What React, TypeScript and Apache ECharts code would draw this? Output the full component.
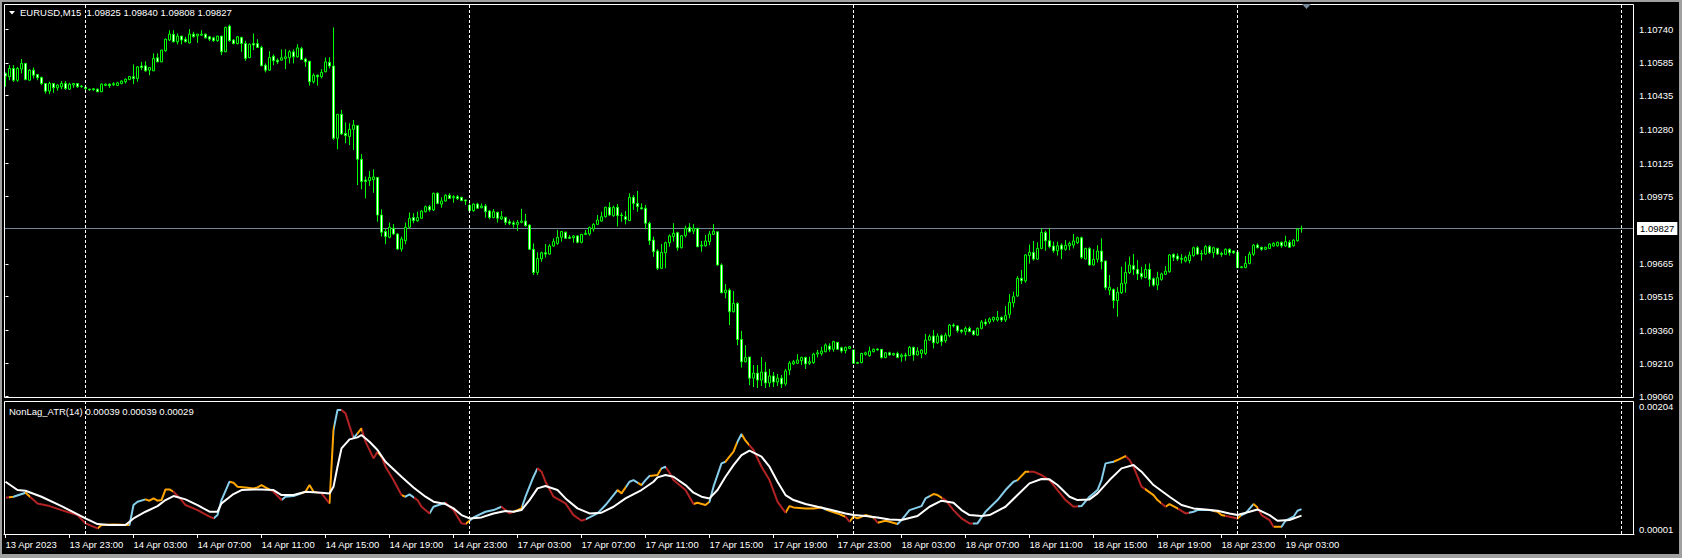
import React, { useEffect, useRef } from "react";
import * as echarts from "echarts";

// ---------- price data (EURUSD, M15), bar index 0 = 13 Apr 2023 19:00 ----------
const opens = [
1.10537,1.10522,1.10560,1.10506,1.10557,1.10583,1.10506,1.10552,1.10532,1.10519,
1.10491,1.10456,1.10491,1.10471,1.10476,1.10491,1.10465,1.10484,1.10491,1.10479,
1.10474,1.10465,1.10462,1.10465,1.10453,1.10482,1.10488,1.10485,1.10482,1.10491,
1.10499,1.10509,1.10522,1.10514,1.10571,1.10572,1.10552,1.10549,1.10609,1.10590,
1.10641,1.10690,1.10716,1.10682,1.10708,1.10694,1.10677,1.10717,1.10709,1.10712,
1.10717,1.10705,1.10700,1.10687,1.10708,1.10636,1.10754,1.10690,1.10674,1.10702,
1.10674,1.10609,1.10674,1.10674,1.10656,1.10575,1.10552,1.10616,1.10598,1.10598,
1.10606,1.10609,1.10636,1.10613,1.10651,1.10603,1.10593,1.10499,1.10529,1.10522,
1.10545,1.10588,1.10571,1.10240,1.10350,1.10263,1.10248,1.10281,1.10298,1.10144,
1.10049,1.10046,1.10051,1.10061,1.09889,1.09813,1.09787,1.09828,1.09802,1.09733,
1.09771,1.09833,1.09877,1.09862,1.09874,1.09904,1.09927,1.09912,1.09988,1.09939,
1.09953,1.09979,1.09968,1.09973,1.09970,1.09958,1.09933,1.09909,1.09939,1.09922,
1.09930,1.09907,1.09877,1.09901,1.09871,1.09878,1.09858,1.09853,1.09846,1.09855,
1.09861,1.09843,1.09732,1.09626,1.09688,1.09716,1.09710,1.09747,1.09759,1.09787,
1.09810,1.09787,1.09785,1.09793,1.09764,1.09800,1.09802,1.09825,1.09846,1.09861,
1.09881,1.09924,1.09886,1.09924,1.09889,1.09881,1.09863,1.09970,1.09942,1.09922,
1.09920,1.09851,1.09774,1.09724,1.09645,1.09716,1.09762,1.09790,1.09808,1.09739,
1.09794,1.09832,1.09815,1.09828,1.09747,1.09748,1.09767,1.09800,1.09812,1.09660,
1.09533,1.09545,1.09446,1.09484,1.09319,1.09217,1.09239,1.09142,1.09165,1.09133,
1.09170,1.09120,1.09152,1.09124,1.09142,1.09115,1.09179,1.09207,1.09210,1.09222,
1.09237,1.09210,1.09213,1.09252,1.09255,1.09263,1.09289,1.09274,1.09306,1.09281,
1.09268,1.09278,1.09271,1.09213,1.09213,1.09251,1.09245,1.09263,1.09275,1.09274,
1.09236,1.09258,1.09248,1.09255,1.09240,1.09248,1.09245,1.09283,1.09248,1.09255,
1.09255,1.09316,1.09335,1.09304,1.09336,1.09313,1.09336,1.09385,1.09381,1.09362,
1.09355,1.09370,1.09358,1.09339,1.09370,1.09399,1.09399,1.09408,1.09408,1.09420,
1.09408,1.09434,1.09487,1.09518,1.09599,1.09587,1.09703,1.09718,1.09687,1.09736,
1.09809,1.09771,1.09747,1.09725,1.09751,1.09732,1.09748,1.09751,1.09762,1.09785,
1.09687,1.09736,1.09660,1.09686,1.09724,1.09678,1.09545,1.09548,1.09497,1.09533,
1.09576,1.09625,1.09657,1.09640,1.09622,1.09603,1.09640,1.09597,1.09568,1.09594,
1.09617,1.09629,1.09709,1.09701,1.09690,1.09678,1.09680,1.09703,1.09739,1.09713,
1.09710,1.09744,1.09716,1.09736,1.09713,1.09709,1.09732,1.09724,1.09718,1.09648,
1.09648,1.09667,1.09709,1.09751,1.09741,1.09732,1.09736,1.09747,1.09748,1.09764,
1.09747,1.09764,1.09748,1.09771,1.09825,
];
const closes = [
1.10525,1.10560,1.10506,1.10560,1.10583,1.10509,1.10552,1.10529,1.10517,1.10491,
1.10456,1.10491,1.10471,1.10484,1.10491,1.10468,1.10488,1.10491,1.10476,1.10477,
1.10468,1.10462,1.10467,1.10453,1.10488,1.10488,1.10481,1.10490,1.10494,1.10502,
1.10511,1.10523,1.10514,1.10567,1.10564,1.10549,1.10564,1.10606,1.10590,1.10644,
1.10694,1.10717,1.10682,1.10708,1.10690,1.10682,1.10717,1.10705,1.10717,1.10717,
1.10700,1.10694,1.10687,1.10708,1.10636,1.10748,1.10687,1.10674,1.10705,1.10674,
1.10606,1.10671,1.10667,1.10656,1.10572,1.10552,1.10610,1.10595,1.10590,1.10609,
1.10613,1.10636,1.10613,1.10654,1.10601,1.10590,1.10499,1.10529,1.10522,1.10542,
1.10590,1.10571,1.10240,1.10350,1.10260,1.10252,1.10281,1.10301,1.10144,1.10042,
1.10042,1.10061,1.10063,1.09889,1.09810,1.09790,1.09833,1.09802,1.09733,1.09779,
1.09833,1.09874,1.09863,1.09877,1.09907,1.09927,1.09912,1.09988,1.09942,1.09953,
1.09979,1.09965,1.09973,1.09964,1.09955,1.09953,1.09909,1.09939,1.09920,1.09930,
1.09904,1.09877,1.09904,1.09874,1.09881,1.09855,1.09851,1.09846,1.09855,1.09861,
1.09840,1.09732,1.09626,1.09690,1.09716,1.09710,1.09747,1.09767,1.09787,1.09813,
1.09782,1.09782,1.09793,1.09764,1.09800,1.09805,1.09831,1.09846,1.09866,1.09881,
1.09924,1.09889,1.09924,1.09886,1.09886,1.09869,1.09970,1.09942,1.09927,1.09917,
1.09851,1.09771,1.09721,1.09645,1.09718,1.09762,1.09793,1.09805,1.09739,1.09794,
1.09828,1.09812,1.09828,1.09744,1.09751,1.09770,1.09802,1.09815,1.09660,1.09533,
1.09545,1.09446,1.09484,1.09319,1.09217,1.09237,1.09142,1.09165,1.09133,1.09170,
1.09120,1.09152,1.09124,1.09142,1.09115,1.09175,1.09211,1.09217,1.09225,1.09237,
1.09207,1.09217,1.09252,1.09258,1.09266,1.09294,1.09274,1.09309,1.09274,1.09266,
1.09283,1.09286,1.09210,1.09210,1.09255,1.09258,1.09266,1.09274,1.09271,1.09236,
1.09258,1.09248,1.09255,1.09237,1.09248,1.09243,1.09283,1.09248,1.09266,1.09271,
1.09316,1.09332,1.09304,1.09335,1.09309,1.09339,1.09385,1.09381,1.09359,1.09355,
1.09370,1.09355,1.09342,1.09370,1.09399,1.09390,1.09413,1.09420,1.09420,1.09408,
1.09428,1.09489,1.09515,1.09599,1.09588,1.09706,1.09718,1.09687,1.09736,1.09809,
1.09771,1.09744,1.09725,1.09748,1.09732,1.09750,1.09759,1.09770,1.09785,1.09695,
1.09736,1.09660,1.09686,1.09724,1.09675,1.09556,1.09558,1.09497,1.09535,1.09576,
1.09626,1.09660,1.09640,1.09619,1.09606,1.09640,1.09594,1.09568,1.09602,1.09619,
1.09632,1.09706,1.09695,1.09687,1.09686,1.09695,1.09706,1.09739,1.09710,1.09710,
1.09744,1.09716,1.09739,1.09710,1.09709,1.09732,1.09716,1.09716,1.09648,1.09652,
1.09667,1.09710,1.09751,1.09739,1.09732,1.09741,1.09756,1.09759,1.09764,1.09748,
1.09767,1.09741,1.09774,1.09825,1.09827,
];
const lows = [
1.10476,1.10506,1.10499,1.10499,1.10537,1.10506,1.10505,1.10514,1.10506,1.10484,
1.10445,1.10442,1.10448,1.10458,1.10465,1.10461,1.10461,1.10471,1.10471,1.10471,
1.10456,1.10458,1.10458,1.10452,1.10452,1.10479,1.10471,1.10479,1.10479,1.10487,
1.10491,1.10506,1.10488,1.10499,1.10552,1.10545,1.10529,1.10548,1.10589,1.10589,
1.10636,1.10685,1.10679,1.10670,1.10670,1.10679,1.10674,1.10702,1.10677,1.10709,
1.10697,1.10685,1.10682,1.10682,1.10621,1.10635,1.10682,1.10670,1.10670,1.10636,
1.10595,1.10608,1.10644,1.10655,1.10571,1.10542,1.10549,1.10575,1.10580,1.10595,
1.10557,1.10583,1.10583,1.10609,1.10598,1.10567,1.10481,1.10491,1.10481,1.10514,
1.10542,1.10560,1.10232,1.10190,1.10255,1.10217,1.10209,1.10187,1.10026,1.10007,
1.09965,1.10022,1.09991,1.09858,1.09790,1.09755,1.09782,1.09797,1.09729,1.09721,
1.09755,1.09828,1.09851,1.09858,1.09871,1.09900,1.09904,1.09907,1.09938,1.09922,
1.09950,1.09962,1.09945,1.09958,1.09952,1.09935,1.09904,1.09904,1.09917,1.09920,
1.09877,1.09869,1.09874,1.09854,1.09866,1.09843,1.09843,1.09831,1.09816,1.09851,
1.09836,1.09729,1.09614,1.09614,1.09675,1.09694,1.09706,1.09744,1.09752,1.09767,
1.09779,1.09779,1.09762,1.09759,1.09759,1.09797,1.09794,1.09813,1.09843,1.09858,
1.09877,1.09884,1.09881,1.09836,1.09858,1.09846,1.09861,1.09912,1.09904,1.09915,
1.09823,1.09752,1.09698,1.09637,1.09642,1.09645,1.09744,1.09767,1.09725,1.09736,
1.09786,1.09809,1.09802,1.09741,1.09721,1.09744,1.09751,1.09797,1.09657,1.09530,
1.09507,1.09385,1.09443,1.09293,1.09190,1.09214,1.09110,1.09101,1.09097,1.09106,
1.09097,1.09101,1.09101,1.09106,1.09097,1.09106,1.09156,1.09202,1.09207,1.09202,
1.09184,1.09202,1.09207,1.09237,1.09245,1.09260,1.09263,1.09263,1.09271,1.09258,
1.09255,1.09275,1.09207,1.09207,1.09210,1.09245,1.09240,1.09260,1.09268,1.09231,
1.09233,1.09245,1.09245,1.09233,1.09217,1.09222,1.09243,1.09222,1.09245,1.09233,
1.09248,1.09313,1.09278,1.09298,1.09290,1.09304,1.09329,1.09374,1.09350,1.09347,
1.09339,1.09352,1.09336,1.09336,1.09365,1.09381,1.09390,1.09399,1.09401,1.09399,
1.09399,1.09416,1.09466,1.09515,1.09573,1.09579,1.09667,1.09680,1.09683,1.09732,
1.09725,1.09736,1.09716,1.09703,1.09687,1.09725,1.09728,1.09736,1.09756,1.09687,
1.09686,1.09657,1.09657,1.09671,1.09640,1.09545,1.09522,1.09461,1.09423,1.09527,
1.09533,1.09619,1.09614,1.09591,1.09594,1.09599,1.09561,1.09561,1.09545,1.09588,
1.09614,1.09625,1.09678,1.09678,1.09667,1.09672,1.09667,1.09698,1.09706,1.09680,
1.09706,1.09710,1.09693,1.09706,1.09698,1.09706,1.09703,1.09710,1.09645,1.09645,
1.09645,1.09663,1.09701,1.09736,1.09725,1.09729,1.09733,1.09744,1.09744,1.09739,
1.09744,1.09738,1.09744,1.09767,1.09808,
];
const highs = [
1.10542,1.10575,1.10575,1.10567,1.10603,1.10585,1.10557,1.10564,1.10535,1.10522,
1.10491,1.10499,1.10491,1.10488,1.10502,1.10502,1.10494,1.10492,1.10492,1.10484,
1.10475,1.10467,1.10470,1.10468,1.10491,1.10491,1.10491,1.10497,1.10499,1.10506,
1.10514,1.10525,1.10578,1.10571,1.10590,1.10593,1.10565,1.10629,1.10629,1.10645,
1.10697,1.10735,1.10735,1.10720,1.10709,1.10705,1.10740,1.10728,1.10718,1.10735,
1.10720,1.10709,1.10705,1.10709,1.10709,1.10751,1.10761,1.10694,1.10709,1.10705,
1.10687,1.10674,1.10720,1.10694,1.10664,1.10583,1.10639,1.10624,1.10606,1.10647,
1.10648,1.10644,1.10647,1.10671,1.10659,1.10609,1.10593,1.10537,1.10532,1.10557,
1.10610,1.10611,1.10748,1.10350,1.10370,1.10313,1.10309,1.10324,1.10301,1.10168,
1.10065,1.10090,1.10098,1.10062,1.09915,1.09825,1.09854,1.09848,1.09805,1.09790,
1.09854,1.09900,1.09897,1.09904,1.09912,1.09932,1.09935,1.09991,1.09993,1.09970,
1.09984,1.09988,1.09980,1.09980,1.09972,1.09958,1.09942,1.09942,1.09945,1.09942,
1.09939,1.09912,1.09916,1.09904,1.09907,1.09881,1.09869,1.09863,1.09866,1.09917,
1.09894,1.09846,1.09759,1.09718,1.09721,1.09756,1.09755,1.09782,1.09820,1.09816,
1.09813,1.09797,1.09797,1.09797,1.09802,1.09820,1.09836,1.09851,1.09889,1.09904,
1.09927,1.09947,1.09932,1.09939,1.09900,1.09907,1.09988,1.09980,1.09999,1.09942,
1.09935,1.09858,1.09790,1.09732,1.09756,1.09767,1.09800,1.09851,1.09812,1.09797,
1.09840,1.09851,1.09847,1.09830,1.09770,1.09797,1.09815,1.09847,1.09812,1.09667,
1.09573,1.09553,1.09541,1.09489,1.09358,1.09293,1.09239,1.09202,1.09202,1.09239,
1.09216,1.09184,1.09170,1.09161,1.09156,1.09184,1.09220,1.09225,1.09252,1.09240,
1.09240,1.09240,1.09258,1.09271,1.09286,1.09301,1.09301,1.09313,1.09307,1.09286,
1.09286,1.09289,1.09272,1.09217,1.09258,1.09263,1.09286,1.09278,1.09278,1.09275,
1.09261,1.09263,1.09258,1.09263,1.09255,1.09258,1.09289,1.09286,1.09283,1.09274,
1.09344,1.09342,1.09362,1.09347,1.09342,1.09350,1.09390,1.09393,1.09385,1.09365,
1.09378,1.09378,1.09362,1.09374,1.09408,1.09413,1.09420,1.09424,1.09449,1.09425,
1.09472,1.09527,1.09538,1.09609,1.09637,1.09710,1.09754,1.09770,1.09764,1.09828,
1.09817,1.09828,1.09767,1.09767,1.09759,1.09774,1.09767,1.09802,1.09790,1.09790,
1.09739,1.09741,1.09732,1.09751,1.09782,1.09680,1.09614,1.09553,1.09558,1.09652,
1.09675,1.09698,1.09710,1.09683,1.09652,1.09664,1.09667,1.09603,1.09629,1.09625,
1.09655,1.09710,1.09713,1.09713,1.09710,1.09703,1.09721,1.09744,1.09747,1.09728,
1.09751,1.09751,1.09744,1.09739,1.09721,1.09736,1.09736,1.09725,1.09721,1.09655,
1.09701,1.09721,1.09756,1.09759,1.09744,1.09744,1.09759,1.09764,1.09767,1.09767,
1.09794,1.09774,1.09777,1.09828,1.09840,
];

// time axis labels, one every 16 bars (4 hours)
const timeLabels = [
  "13 Apr 2023", "13 Apr 23:00", "14 Apr 03:00", "14 Apr 07:00", "14 Apr 11:00",
  "14 Apr 15:00", "14 Apr 19:00", "14 Apr 23:00", "17 Apr 03:00", "17 Apr 07:00",
  "17 Apr 11:00", "17 Apr 15:00", "17 Apr 19:00", "17 Apr 23:00", "18 Apr 03:00",
  "18 Apr 07:00", "18 Apr 11:00", "18 Apr 15:00", "18 Apr 19:00", "18 Apr 23:00",
  "19 Apr 03:00",
];
const labelStep = 16;
const separatorBars = [20, 116, 212, 308, 404]; // day separators (00:00 bars)
const priceTicks = [1.0906, 1.0921, 1.0936, 1.09515, 1.09665, 1.09975, 1.10125, 1.1028, 1.10435, 1.10585, 1.1074];
const currentPrice = 1.09827;
const priceRange = [1.09051, 1.10855];

// ---------- NonLag_ATR(14), values in points (1 pt = 0.00001) ----------
const PT = 0.00001;
const atrRange = [0.00001, 0.00204];
const atrLine = [
[0,56.4],[2,57.9],[5,64],[8,47.7],[11,43.6],[14,37.5],[18,29.9],[20,17.2],[23,9.5],[24,14.6],
[27,15.6],[31,14.6],[32,45.2],[33,50.3],[35,53.8],[36,51.8],[37,55.3],[38,51.8],[39,52.8],[40,69.1],
[41,69.1],[42,65.5],[44,52.8],[45,45.2],[48,37.5],[51,27.4],[52,24.8],[53,29.9],[54,52.8],[56,80.8],
[57,79.3],[58,73.2],[60,72.1],[62,70.6],[63,72.1],[64,75.7],[65,72.1],[67,65.5],[69,52.8],[70,57.9],
[72,58.9],[74,63],[75,65.5],[76,75.7],[77,65.5],[79,63],[81,47.7],[82,160],[83,190.2],[84,190.2],
[85,185.1],[87,147],[88,154.6],[89,162.2],[90,141.9],[92,116.4],[93,126.6],[94,119],[95,103.7],[97,83.3],
[99,60.4],[100,57.9],[101,61.5],[103,52.8],[104,42.6],[106,32.4],[107,42.6],[109,46.7],[110,48.7],[111,42.6],
[112,37.5],[113,27.4],[114,17.2],[115,16.2],[116,21.2],[117,26.3],[120,35],[122,37.5],[124,42.6],[125,37.5],
[126,32.4],[128,37.5],[129,40.1],[130,57.9],[132,88.4],[133,101.2],[134,96.1],[135,80.8],[137,57.9],[140,47.7],
[142,29.9],[144,21.2],[145,23.3],[148,32.4],[150,45.2],[153,68.1],[154,63],[156,80.8],[157,83.3],[159,75.7],
[160,83.3],[161,89.5],[163,91],[164,101.2],[165,103.7],[166,94.5],[167,83.3],[170,68.1],[172,46.7],[173,48.7],
[175,45.2],[176,50.3],[177,73.2],[179,108.8],[180,111.3],[182,126.6],[183,141.9],[184,153.6],[185,143.4],[187,129.2],
[189,103.7],[191,83.3],[193,50.3],[195,33.5],[196,43.6],[197,41.6],[200,40.1],[202,40.1],[204,41.6],[205,38.5],
[208,32.4],[210,27.4],[211,19.7],[212,27.4],[213,24.8],[215,29.9],[217,26.3],[218,18.2],[220,21.2],[221,19.7],
[223,16.2],[224,22.3],[226,37.5],[229,43.6],[230,55.3],[232,62],[233,60.4],[235,52.8],[237,37.5],[239,24.8],
[241,17.2],[243,17.2],[245,35],[248,52.8],[250,68.1],[252,80.8],[253,83.3],[255,96.1],[257,96.1],[259,91],
[261,83.3],[263,68.1],[265,52.8],[267,42.6],[269,43.6],[271,57.9],[273,68.1],[274,83.3],[275,108.8],[277,111.3],
[278,113.9],[280,120],[281,113.9],[282,103.7],[284,73.2],[285,69.1],[287,60.4],[288,52.8],[290,42.6],[291,46.7],
[293,40.1],[295,32.4],[297,35],[298,37.5],[301,37.5],[303,35],[304,29.9],[306,27.4],[308,24.8],[309,29.9],
[310,32.4],[312,46.7],[313,41.6],[314,29.9],[316,22.3],[317,12.1],[319,12.1],[320,21.2],[322,27.4],[323,36.5],
[324,39],
];
const atrSignal = [
[0,80.8],[3,68.1],[5,67.1],[9,57.9],[14,43.6],[20,24.8],[23,16.2],[26,14.6],[30,14.6],[32,24.8],
[35,35],[38,43.6],[40,52.8],[42,58.9],[45,53.8],[48,45.2],[51,35],[53,35],[54,47.7],[57,62],
[59,68.1],[62,69.1],[64,69.1],[67,68.1],[69,60.4],[72,60.4],[75,65.5],[79,64],[81,63],[82,73.2],
[83,103.7],[84,131.7],[86,145.4],[88,148.5],[89,152.1],[91,141.9],[93,129.2],[95,111.3],[99,88.4],[102,72.1],
[105,57.9],[107,50.3],[110,46.7],[112,40.1],[114,29.9],[116,24.8],[119,26.3],[122,32.4],[125,36],[127,35],
[129,37.5],[131,52.8],[133,70.6],[135,74.2],[138,68.1],[140,55.3],[143,40.1],[146,32.4],[149,33.5],[152,42.6],
[155,55.3],[159,68.1],[162,80.8],[163,87.4],[165,91],[167,88.4],[170,75.7],[172,64],[174,57.9],[176,55.3],
[178,68.1],[180,88.4],[182,106.2],[184,121.5],[186,128.1],[189,119],[191,103.7],[193,80.8],[195,60.4],[197,52.8],
[200,46.7],[203,42.6],[206,38.5],[210,32.4],[212,29.9],[215,28.4],[218,26.3],[221,23.3],[224,22.3],[228,28.4],
[231,42.6],[234,51.8],[237,48.7],[239,37.5],[241,29.9],[244,28.4],[246,29.9],[250,42.6],[253,60.4],[256,78.3],
[259,84.9],[261,84.4],[263,75.7],[266,57.9],[268,52.8],[271,53.8],[273,63],[276,83.3],[279,101.2],[282,106.2],
[284,96.1],[287,75.7],[291,57.9],[294,45.2],[297,40.1],[300,38.5],[303,36.5],[306,32.4],[308,29.9],[311,35],
[313,38.5],[316,29.9],[318,21.2],[321,22.3],[324,29],
];
// colour of the ATR line per bar range: up = skyblue, down = firebrick, flat = orange
const atrSegments: [number, number, string][] = [
[0,1,"down"],[1,2,"flat"],[2,5,"up"],[5,6,"flat"],[6,23,"down"],[23,31,"flat"],[31,35,"up"],[35,42,"flat"],
[42,52,"down"],[52,56,"up"],[56,66,"flat"],[66,69,"down"],[69,74,"up"],[74,78,"flat"],[78,81,"down"],[81,82,"flat"],
[82,84,"up"],[84,87,"down"],[87,88,"up"],[88,89,"flat"],[89,93,"down"],[93,94,"flat"],[94,99,"down"],[99,100,"flat"],
[100,102,"up"],[102,106,"down"],[106,110,"up"],[110,115,"down"],[115,116,"flat"],[116,124,"up"],[124,127,"down"],[127,129,"flat"],
[129,133,"up"],[133,145,"down"],[145,153,"up"],[153,155,"flat"],[155,158,"up"],[158,159,"flat"],[159,161,"up"],[161,164,"flat"],
[164,165,"up"],[165,172,"down"],[172,176,"flat"],[176,180,"up"],[180,183,"flat"],[183,184,"up"],[184,186,"flat"],[186,195,"down"],
[195,204,"flat"],[204,205,"up"],[205,210,"flat"],[210,211,"down"],[211,217,"flat"],[217,218,"down"],[218,223,"flat"],[223,231,"up"],
[231,234,"flat"],[234,242,"down"],[242,253,"up"],[253,256,"flat"],[256,268,"down"],[268,277,"up"],[277,280,"flat"],[280,285,"down"],
[285,289,"flat"],[289,290,"down"],[290,293,"flat"],[293,296,"down"],[296,302,"up"],[302,305,"flat"],[305,308,"down"],[308,309,"flat"],
[309,312,"up"],[312,313,"flat"],[313,317,"down"],[317,319,"flat"],[319,325,"up"],
];
const atrColors: Record<string, string> = { up: "#87CEEB", down: "#B22222", flat: "#FFA500" };

const FONT = '"Liberation Sans", Arial, sans-serif';
const FS = 9.5;

export default function App() {
  const ref = useRef<HTMLDivElement>(null);
  useEffect(() => {
    document.body.style.margin = "0";
    document.body.style.background = "#000";
    const chart = echarts.init(ref.current!, null, { renderer: "svg" });

    const X_MIN = -0.375;
    const X_MAX = 407.125;
    const labelBars = timeLabels.map((_, k) => k * labelStep);
    const candles = opens.map((o, i) => [i, o, closes[i], lows[i], highs[i]]);
    const line = atrLine.map(([x, v]) => [x, v * PT]);
    const signal = atrSignal.map(([x, v]) => [x, v * PT]);
    const last = opens.length - 1;
    const header = `EURUSD,M15  ${opens[last].toFixed(5)} ${highs[last].toFixed(5)} ${lows[last].toFixed(5)} ${closes[last].toFixed(5)}`;
    const lastLine = (atrLine[atrLine.length - 1][1] * PT).toFixed(5);
    const lastSig = (atrSignal[atrSignal.length - 1][1] * PT).toFixed(5);
    const atrHeader = `NonLag_ATR(14) ${lastLine} ${lastLine} ${lastSig}`;

    const sepLines = separatorBars.map((b) => ({
      xAxis: b,
      lineStyle: { color: "#ffffff", type: [3, 2], width: 1 },
      label: { show: false },
    }));

    const option: any = {
      animation: false,
      backgroundColor: "#000000",
      textStyle: { fontFamily: FONT },
      grid: [
        { left: 4, top: 4, width: 1630, height: 394, show: false },
        { left: 4, top: 401, width: 1630, height: 133, show: false },
      ],
      xAxis: [
        { type: "value", gridIndex: 0, min: X_MIN, max: X_MAX, show: false },
        {
          type: "value", gridIndex: 1, min: X_MIN, max: X_MAX,
          splitLine: { show: false },
          axisLine: { show: true, lineStyle: { color: "#ffffff", width: 1 } },
          axisTick: { show: true, customValues: labelBars, length: 4, lineStyle: { color: "#ffffff" } },
          axisLabel: {
            customValues: labelBars,
            formatter: (v: number) => timeLabels[Math.round(v / labelStep)] ?? "",
            color: "#ffffff", align: "left", fontSize: FS, fontFamily: FONT, margin: 5,
          },
        },
      ],
      yAxis: [
        {
          type: "value", gridIndex: 0, position: "right", min: priceRange[0], max: priceRange[1],
          splitLine: { show: false }, axisLine: { show: false },
          axisTick: { show: true, customValues: priceTicks, length: 3, lineStyle: { color: "#ffffff" } },
          axisLabel: {
            customValues: priceTicks, formatter: (v: number) => v.toFixed(5),
            color: "#ffffff", fontSize: FS, fontFamily: FONT, margin: 5,
          },
        },
        {
          type: "value", gridIndex: 1, position: "right", min: atrRange[0], max: atrRange[1],
          splitLine: { show: false }, axisLine: { show: false }, axisTick: { show: false },
          axisLabel: {
            customValues: [atrRange[1]], formatter: (v: number) => v.toFixed(5),
            color: "#ffffff", fontSize: FS, fontFamily: FONT, margin: 5, verticalAlign: "top",
          },
        },
        {
          type: "value", gridIndex: 1, position: "right", min: atrRange[0], max: atrRange[1],
          splitLine: { show: false }, axisLine: { show: false }, axisTick: { show: false },
          axisLabel: {
            customValues: [atrRange[0]], formatter: (v: number) => v.toFixed(5),
            color: "#ffffff", fontSize: FS, fontFamily: FONT, margin: 5, verticalAlign: "bottom",
          },
        },
        {
          // current price tag on the price scale
          type: "value", gridIndex: 0, position: "right", min: priceRange[0], max: priceRange[1],
          splitLine: { show: false }, axisLine: { show: false }, axisTick: { show: false },
          axisLabel: {
            customValues: [currentPrice], formatter: (v: number) => v.toFixed(5),
            color: "#000000", backgroundColor: "#ffffff", padding: [2, 3, 1, 3],
            fontSize: FS, fontFamily: FONT, margin: 3,
          },
        },
      ],
      visualMap: [
        {
          type: "piecewise", show: false, dimension: 0, seriesIndex: 1,
          pieces: atrSegments.map(([a, b, k]) => ({ gte: a, lt: b, color: atrColors[k] })),
        },
      ],
      series: [
        {
          type: "candlestick", xAxisIndex: 0, yAxisIndex: 0, barWidth: 2,
          data: candles, z: 3,
          itemStyle: {
            color: "#000000", color0: "#ffffff",
            borderColor: "#00ff00", borderColor0: "#00ff00", borderWidth: 1,
          },
          markLine: {
            silent: true, symbol: ["none", "none"], animation: false,
            data: sepLines,
          },
        },
        {
          type: "line", xAxisIndex: 1, yAxisIndex: 1, data: line,
          showSymbol: false, symbol: "none", lineStyle: { width: 2 }, z: 3,
        },
        {
          type: "line", xAxisIndex: 1, yAxisIndex: 1, data: signal,
          showSymbol: false, symbol: "none", lineStyle: { width: 2, color: "#ffffff" },
          itemStyle: { color: "#ffffff" }, z: 4,
          markLine: { silent: true, symbol: ["none", "none"], animation: false, data: sepLines },
        },
        {
          // bid line across the price window
          type: "line", xAxisIndex: 0, yAxisIndex: 0, z: 2,
          data: [[X_MIN, currentPrice], [X_MAX, currentPrice]],
          showSymbol: false, symbol: "none", silent: true,
          lineStyle: { color: "#778899", width: 1 },
        },
      ],
      graphic: [
        { type: "rect", z: 100, shape: { x: 0, y: 0, width: 1682, height: 2 }, style: { fill: "#a0a0a0" } },
        { type: "rect", z: 100, shape: { x: 0, y: 0, width: 2, height: 558 }, style: { fill: "#a0a0a0" } },
        { type: "rect", z: 100, shape: { x: 1679, y: 0, width: 3, height: 558 }, style: { fill: "#a0a0a0" } },
        { type: "rect", z: 100, shape: { x: 0, y: 554, width: 1682, height: 4 }, style: { fill: "#a0a0a0" } },
        { type: "rect", z: 50, shape: { x: 4.5, y: 4.5, width: 1629, height: 393 }, style: { fill: "none", stroke: "#ffffff", lineWidth: 1 } },
        { type: "rect", z: 50, shape: { x: 4.5, y: 401.5, width: 1629, height: 133 }, style: { fill: "none", stroke: "#ffffff", lineWidth: 1 } },
        { type: "polygon", z: 60, shape: { points: [[9, 11], [15, 11], [12, 14.5]] }, style: { fill: "#ffffff" } },
        { type: "text", z: 60, x: 20, y: 12.5, style: { text: header, fill: "#ffffff", font: `${FS}px ${FONT}`, verticalAlign: "middle" } },
        { type: "text", z: 60, x: 9, y: 411, style: { text: atrHeader, fill: "#ffffff", font: `${FS}px ${FONT}`, verticalAlign: "middle" } },
        { type: "polygon", z: 60, shape: { points: [[1302, 4], [1311, 4], [1306.5, 9]] }, style: { fill: "#778899" } },
      ],
    };
    chart.setOption(option);
    return () => chart.dispose();
  }, []);
  return <div ref={ref} style={{ width: 1682, height: 558 }} />;
}
